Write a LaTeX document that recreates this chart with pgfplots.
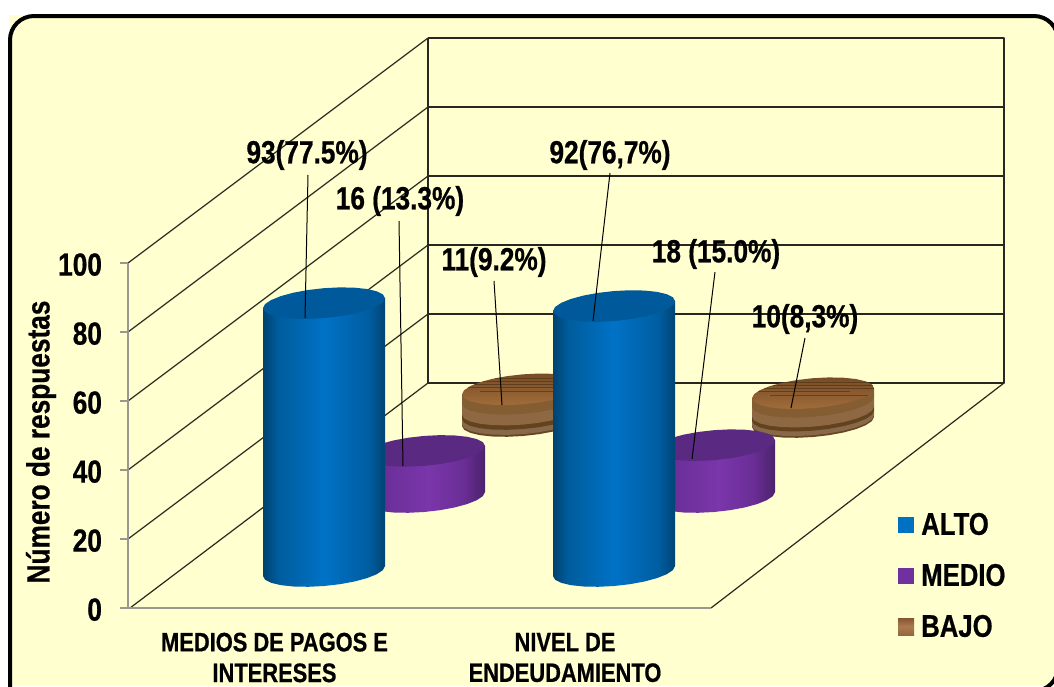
\documentclass[border=0pt]{standalone}
\usepackage{fontspec}
\setmainfont{Liberation Sans}[FakeStretch=0.82, BoldFeatures={FakeBold=0.6}]
\usepackage{pgfplots}
\usepackage{pgfplotstable}
\pgfplotsset{compat=1.18}

\definecolor{cream}{HTML}{FFFFD0}
\definecolor{wall}{HTML}{282820}
\definecolor{axisgray}{HTML}{989890}
\definecolor{blueTop}{HTML}{00599A}
\definecolor{purpleTop}{HTML}{5A2A82}
\definecolor{blueKey}{HTML}{0070C0}
\definecolor{purpleKey}{HTML}{7030A0}

\definecolor{bA}{HTML}{004270}
\definecolor{bB}{HTML}{005C9C}
\definecolor{bC}{HTML}{0072C6}
\definecolor{bD}{HTML}{005EA2}
\definecolor{bE}{HTML}{004474}
\definecolor{pA}{HTML}{48206C}
\definecolor{pB}{HTML}{6C309A}
\definecolor{pC}{HTML}{7A36AA}
\definecolor{pD}{HTML}{6A2E96}
\definecolor{pE}{HTML}{4C226C}
\definecolor{tA}{HTML}{A06C3A}
\definecolor{tB}{HTML}{8C5C30}
\definecolor{tC}{HTML}{764C26}
\definecolor{kA}{HTML}{96643E}
\definecolor{kB}{HTML}{AC7A50}
\definecolor{kC}{HTML}{845630}

\pgfdeclarehorizontalshading{bluecyl}{100bp}{
  color(0bp)=(bA); color(25bp)=(bA); color(31bp)=(bB); color(50bp)=(bC);
  color(68bp)=(bD); color(75bp)=(bE); color(100bp)=(bE)}
\pgfdeclarehorizontalshading{purplecyl}{100bp}{
  color(0bp)=(pA); color(25bp)=(pA); color(35bp)=(pB); color(52bp)=(pC);
  color(66bp)=(pD); color(75bp)=(pE); color(100bp)=(pE)}
\pgfdeclareverticalshading{woodtop}{100bp}{
  color(0bp)=(tA); color(25bp)=(tA); color(50bp)=(tB); color(75bp)=(tC); color(100bp)=(tC)}
\pgfdeclareverticalshading{woodkey}{100bp}{
  color(0bp)=(kA); color(25bp)=(kA); color(50bp)=(kB); color(75bp)=(kC); color(100bp)=(kC)}

% Outline of a cylinder wall: lower half of the base ellipse, then the chord at the top
\pgfplotstableread{
c s h
-1.000 0.000 1
-1.000 0.000 0
-0.966 0.259 0
-0.866 0.500 0
-0.707 0.707 0
-0.500 0.866 0
-0.259 0.966 0
0.000 1.000 0
0.259 0.966 0
0.500 0.866 0
0.707 0.707 0
0.866 0.500 0
0.966 0.259 0
1.000 0.000 0
1.000 0.000 1
}\bodypts
% Unit ellipse for the cylinder caps
\pgfplotstableread{
c s
1.000 0.000
0.966 0.259
0.866 0.500
0.707 0.707
0.500 0.866
0.259 0.966
0.000 1.000
-0.259 0.966
-0.500 0.866
-0.707 0.707
-0.866 0.500
-0.966 0.259
-1.000 0.000
-0.966 -0.259
-0.866 -0.500
-0.707 -0.707
-0.500 -0.866
-0.259 -0.966
0.000 -1.000
0.259 -0.966
0.500 -0.866
0.707 -0.707
0.866 -0.500
0.966 -0.259
1.000 0.000
}\cappts

% #1 centre x, #2 base y, #3 value, #4 wall style, #5 cap style
\newcommand{\cylinder}[5]{%
  \addplot[draw=none, #4] table[x expr=#1+61*\thisrow{c},
    y expr=#2-#3*2.88*\thisrow{h}+15*\thisrow{s}-5*\thisrow{c}] {\bodypts};
  \addplot[draw=none, #5] table[x expr=#1+61*\thisrow{c},
    y expr=#2-#3*2.88+15*\thisrow{s}-5*\thisrow{c}] {\cappts};
}
% Wooden ring between two fractions of the value: #4 lower, #5 upper, #6 colour
\newcommand{\woodband}[6]{%
  \addplot[draw=none, left color=#6!72!black, middle color=#6, right color=#6!72!black]
    table[x expr=#1+61*\thisrow{c},
    y expr=#2-#3*2.88*(#4+(#5-#4)*\thisrow{h})+15*\thisrow{s}-5*\thisrow{c}] {\bodypts};
}
\newcommand{\woodstack}[3]{%
  \woodband{#1}{#2}{#3}{0.00}{0.06}{woodA}
  \woodband{#1}{#2}{#3}{0.06}{0.22}{woodB}
  \woodband{#1}{#2}{#3}{0.22}{0.36}{woodC}
  \woodband{#1}{#2}{#3}{0.36}{0.70}{woodD}
  \woodband{#1}{#2}{#3}{0.70}{1.00}{woodE}
  \addplot[draw=none, shade, shading=woodtop] table[x expr=#1+61*\thisrow{c},
    y expr=#2-#3*2.88+15*\thisrow{s}-5*\thisrow{c}] {\cappts};
}
\definecolor{woodA}{HTML}{8D5F32}
\definecolor{woodB}{HTML}{BC9064}
\definecolor{woodC}{HTML}{8A5C2A}
\definecolor{woodD}{HTML}{C4915C}
\definecolor{woodE}{HTML}{B98146}

\newcommand{\lblfont}{\fontsize{24}{26}\selectfont\bfseries}
\newcommand{\keyfont}{\fontsize{23.5}{26}\selectfont\bfseries}

\begin{document}
\begin{tikzpicture}
\path[use as bounding box] (0pt,0pt) rectangle (790.5pt,514.5pt);
\begin{axis}[
  at={(0pt,0pt)}, anchor=south west,
  scale only axis, width=790.5pt, height=514.5pt,
  xmin=0, xmax=1054, ymin=0, ymax=686,
  y dir=reverse, hide axis, clip=true,
  unbounded coords=jump,
  every axis plot/.append style={line join=round},
]
% Panel
\addplot[draw=none, fill=cream] coordinates {
  (9,15) (1037,15) (1044,18) (1050,23) (1054,28) (1054,686) (9,686) (9,15)};

% Back wall and its grid
\addplot[wall, line width=1pt] coordinates {(428,38) (1004,38) (1004,383) (428,383) (428,38)};
\addplot[wall, line width=1pt] coordinates {
  (428,107) (1004,107) (1004,nan)
  (428,176) (1004,176) (1004,nan)
  (428,245) (1004,245) (1004,nan)
  (428,314) (1004,314)};
% Left wall
\addplot[wall, line width=0.9pt] coordinates {
  (128,263) (428,38) (428,nan)
  (128,332) (428,107) (428,nan)
  (128,401) (428,176) (428,nan)
  (128,470) (428,245) (428,nan)
  (128,539) (428,314) (428,nan)
  (130,608) (428,383)};
% Floor
\addplot[wall, line width=0.9pt] coordinates {(1004,383) (711,608)};
\addplot[axisgray, line width=1.1pt] coordinates {(128,608) (711,608)};

% BAJO
\woodstack{523}{421}{11}
\addplot[black!60!brown, line width=0.45pt, opacity=0.65] coordinates {
  (495,378) (578,378) (578,nan)
  (483,381) (583,381) (583,nan)
  (474,384) (584,384) (584,nan)
  (468,387) (560,387) (560,nan)
  (480,391) (578,391) (578,nan)};
\woodstack{813}{422}{10}
\addplot[black!60!brown, line width=0.45pt, opacity=0.65] coordinates {
  (785,382) (868,382) (868,nan)
  (773,385) (873,385) (873,nan)
  (764,388) (874,388) (874,nan)
  (758,391) (850,391) (850,nan)
  (770,395) (868,395) (868,nan)};

% MEDIO
\cylinder{424}{497}{16}{shade, shading=purplecyl}{fill=purpleTop}
\cylinder{714}{497}{18}{shade, shading=purplecyl}{fill=purpleTop}

% ALTO
\cylinder{324}{571}{93}{shade, shading=bluecyl}{fill=blueTop}
\cylinder{614}{571}{92}{shade, shading=bluecyl}{fill=blueTop}

% Leader lines
\addplot[black, line width=0.75pt] coordinates {(308,175) (305,318)};
\addplot[black, line width=0.75pt] coordinates {(399,221) (403,466)};
\addplot[black, line width=0.75pt] coordinates {(494,281) (502,405)};
\addplot[black, line width=0.75pt] coordinates {(610,173) (593,321)};
\addplot[black, line width=0.75pt] coordinates {(715,272) (692,459)};
\addplot[black, line width=0.75pt] coordinates {(805,338) (791,408)};

% Outline of the panel
\addplot[black, line width=3pt, rounded corners=18pt] coordinates {
  (10,720) (10,16) (1058,16) (1058,691) (10,691) (10,720)};

% Value labels
\node[font=\lblfont] at (axis cs:307,155) {93(77.5\%)};
\node[font=\lblfont] at (axis cs:400,201) {16 (13.3\%)};
\node[font=\lblfont] at (axis cs:494,262) {11(9.2\%)};
\node[font=\lblfont] at (axis cs:610,155) {92(76,7\%)};
\node[font=\lblfont] at (axis cs:716,254) {18 (15.0\%)};
\node[font=\lblfont] at (axis cs:805,319) {10(8,3\%)};

% Category labels
\node[font=\fontsize{20}{23}\selectfont\bfseries, align=center] at (axis cs:274.5,657.5)
  {MEDIOS DE PAGOS E\\INTERESES};
\node[font=\fontsize{20}{23}\selectfont\bfseries, align=center] at (axis cs:565,657.5)
  {NIVEL DE\\ENDEUDAMIENTO};

% Axis title
\node[font=\lblfont, rotate=90] at (axis cs:41,442) {Número de respuestas};

% Key
\addplot[draw=none, fill=blueKey] coordinates {(898,517) (914,517) (914,533) (898,533)};
\addplot[draw=none, fill=purpleKey] coordinates {(898,568) (914,568) (914,584) (898,584)};
\addplot[draw=none, shade, shading=woodkey] coordinates {(898,618) (914,618) (914,635) (898,635)};
\node[font=\keyfont, anchor=west, inner sep=0pt] at (axis cs:921,524) {ALTO};
\node[font=\keyfont, anchor=west, inner sep=0pt] at (axis cs:921,575) {MEDIO};
\node[font=\keyfont, anchor=west, inner sep=0pt] at (axis cs:921,626) {BAJO};
\end{axis}

% Value scale on the front edge of the left wall
\begin{axis}[
  at={(96pt,58.5pt)}, anchor=south west,
  scale only axis, width=10pt, height=258.75pt,
  xmin=0, xmax=1, ymin=0, ymax=100,
  axis x line=none, axis y line*=left,
  ytick={0,20,40,60,80,100},
  axis line style={axisgray, line width=1.1pt, -},
  tick style={axisgray, line width=0.8pt},
  major tick length=6pt, tick align=outside, ytick pos=left,
  /pgf/number format/assume math mode=true,
  tick label style={font=\fontsize{24}{26}\selectfont\bfseries, xshift=-10pt, yshift=-1.2pt},
]
\addplot[draw=none, forget plot] coordinates {(0,0) (1,100)};
\end{axis}
\end{tikzpicture}
\end{document}
